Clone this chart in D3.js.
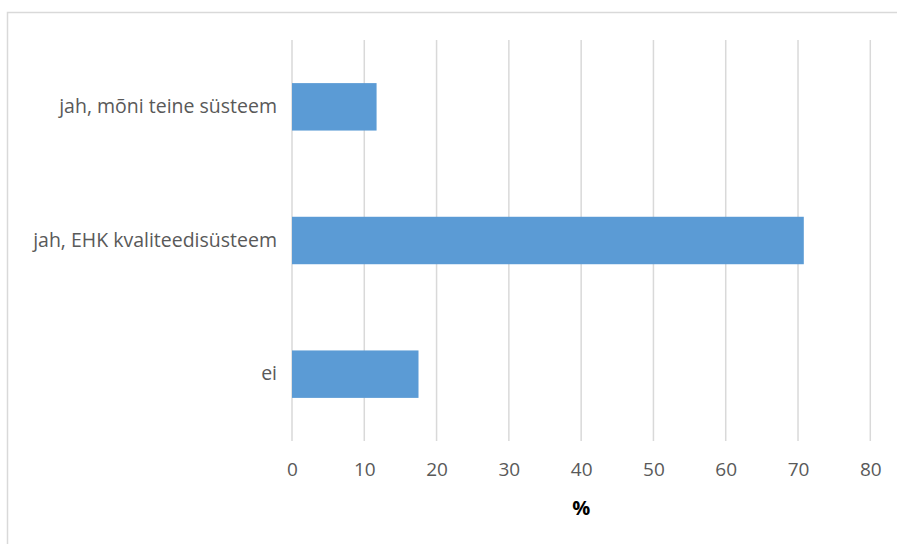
<!DOCTYPE html>
<html>
<head>
<meta charset="utf-8">
<script src="https://cdn.jsdelivr.net/npm/d3@7"></script>
<style>
  body { margin: 0; background: #fff; }
  svg { display: block; }
</style>
</head>
<body>
<div id="chart"></div>
<script>
// Chart data.
const categories = ['jah, mõni teine süsteem', 'jah, EHK kvaliteedisüsteem', 'ei'];
const values = [11.7, 70.8, 17.5];
const xTicks = [0, 10, 20, 30, 40, 50, 60, 70, 80];
const xTitle = '%';

const width = 897;
const height = 544;
const margin = { top: 40, right: 27, bottom: 103, left: 292 };

const textColour = '#595959';
const gridColour = '#d9d9d9';
const barColour = '#5b9bd5';
const fontFamily = '"Open Sans", "Liberation Sans", sans-serif';

const svg = d3.select('#chart')
  .append('svg')
  .attr('width', width)
  .attr('height', height);

// Outer chart border (runs past right and bottom edges like the original).
svg.append('rect')
  .attr('x', 7.5)
  .attr('y', 12.5)
  .attr('width', 900)
  .attr('height', 540)
  .attr('fill', 'none')
  .attr('stroke', gridColour)
  .attr('stroke-width', 1.5);

const x = d3.scaleLinear()
  .domain([0, 80])
  .range([margin.left, 870.3]);

const y = d3.scaleBand()
  .domain(categories)
  .range([margin.top, 441])
  .paddingInner(0.645)
  .paddingOuter(0.3225);

// Vertical gridlines.
svg.append('g')
  .selectAll('line')
  .data(xTicks)
  .join('line')
  .attr('x1', d => x(d))
  .attr('x2', d => x(d))
  .attr('y1', margin.top)
  .attr('y2', 441)
  .attr('stroke', gridColour)
  .attr('stroke-width', 1.5);

// Bars.
svg.append('g')
  .selectAll('rect')
  .data(values)
  .join('rect')
  .attr('x', x(0))
  .attr('y', (d, i) => y(categories[i]))
  .attr('width', d => x(d) - x(0))
  .attr('height', y.bandwidth())
  .attr('fill', barColour);

// X axis tick labels.
const xAxis = svg.append('g')
  .attr('transform', `translate(0, 441)`)
  .call(d3.axisBottom(x).tickValues(xTicks).tickSize(0).tickPadding(22));
xAxis.select('.domain').remove();
xAxis.selectAll('text')
  .attr('fill', textColour)
  .style('font-family', fontFamily)
  .style('font-size', '19px');

// Y axis category labels.
const yAxis = svg.append('g')
  .attr('transform', `translate(${margin.left}, 0)`)
  .call(d3.axisLeft(y).tickSize(0).tickPadding(15));
yAxis.select('.domain').remove();
yAxis.selectAll('text')
  .attr('fill', textColour)
  .style('font-family', fontFamily)
  .style('font-size', '19.5px');

// Axis title.
svg.append('text')
  .attr('x', (x(0) + x(80)) / 2)
  .attr('y', 515)
  .attr('text-anchor', 'middle')
  .attr('fill', '#000')
  .style('font-family', fontFamily)
  .style('font-size', '20px')
  .style('font-weight', 'bold')
  .text(xTitle);
</script>
</body>
</html>
